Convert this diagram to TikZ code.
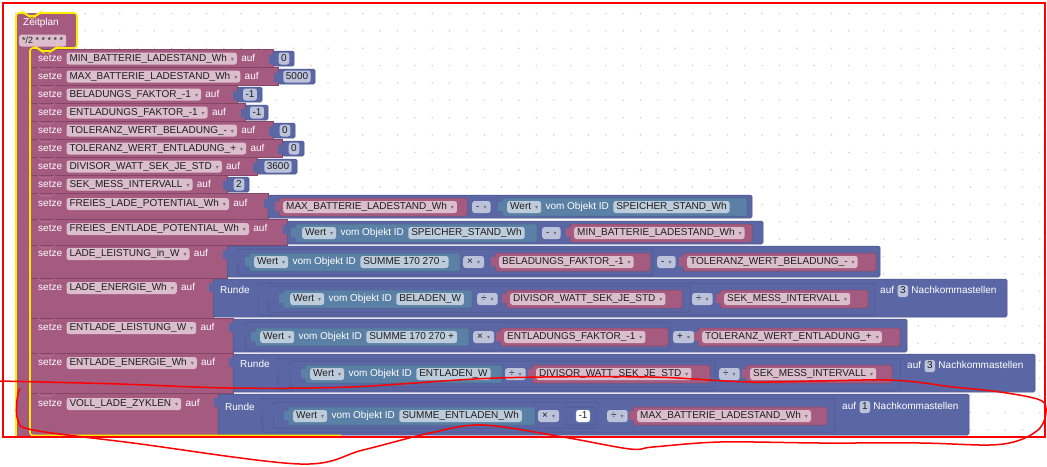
\documentclass[tikz,border=0pt]{standalone}
\usepackage{fontspec}
\setmainfont{Liberation Sans}
\newfontfamily\symfont{DejaVu Sans}
\usepackage{xcolor}
\definecolor{pinkc}{RGB}{165, 91, 128}
\definecolor{pinkdk}{RGB}{132, 70, 102}
\definecolor{pinkln}{RGB}{190, 120, 155}
\definecolor{bluec}{RGB}{91, 103, 165}
\definecolor{bluedk}{RGB}{72, 82, 138}
\definecolor{tealc}{RGB}{91, 128, 165}
\definecolor{tealdk}{RGB}{72, 104, 138}
\definecolor{vfldc}{RGB}{219, 189, 204}
\definecolor{bfldc}{RGB}{189, 194, 219}
\definecolor{tfldc}{RGB}{189, 204, 219}
\definecolor{fldtxt}{RGB}{30, 30, 30}
\definecolor{dropc}{RGB}{120, 110, 120}
\definecolor{gelb}{RGB}{255, 236, 0}
\definecolor{punkt}{RGB}{205, 205, 205}
\definecolor{rot}{RGB}{255, 0, 0}
\usepackage{tikz}
\usetikzlibrary{positioning}
\newcommand\blfont{\fontsize{10}{12}\selectfont}
\newcommand\drop{\hspace{4pt}{\symfont\fontsize{6}{6}\selectfont\textcolor{dropc}{▾}}}
\newcommand\tabat[3]{\fill[#3] (#1-4,#2+4) rectangle (#1+0.5,#2+13);}

\begin{document}
\begin{tikzpicture}[x=1pt, y=-1pt,
  txt/.style={inner sep=0pt, text height=7pt, text depth=2pt, text=white, font=\blfont, anchor=west},
  fld/.style={rounded corners=2.5pt, inner xsep=3pt, inner ysep=1.5pt, text height=7pt, text depth=2pt, text=fldtxt, font=\blfont, anchor=west},
  vfld/.style={fld, fill=vfldc},
  tfld/.style={fld, fill=tfldc},
  opfld/.style={fld, fill=bfldc, inner xsep=4pt},
  nfld/.style={fld, fill=bfldc, inner xsep=2.5pt, anchor=center},
  pblk/.style={fill=pinkc, draw=pinkdk, line width=0.5pt},
  bblk/.style={fill=bluec, draw=bluedk, line width=0.5pt, rounded corners=1.5pt},
  tblk/.style={fill=tealc, draw=tealdk, line width=0.5pt, rounded corners=1.5pt},
  vblk/.style={fill=pinkc, draw=pinkdk, line width=0.5pt, rounded corners=1.5pt}
]
  \useasboundingbox (0,0) rectangle (1047,466);
  \fill[white] (0,0) rectangle (1047,466);

  \begin{scope}
  \clip (3,3) rectangle (1045,437);
  % raster
  \foreach \i in {-5,...,55}
    \foreach \j in {0,...,24}
      \fill[punkt] (85+17.36*\i,13.5+17.36*\j) circle (0.8);

  % Zeitplan
  \fill[pinkc, rounded corners=4pt] (16,440) -- (16,13) -- (77,13) -- (77,49) -- (30,49) -- (30,440) -- cycle;
  \node[txt] (zeit) at (23,23) {Zeitplan};
  \node[vfld, font=\fontsize{9}{10}\selectfont] (cron) at (19,40.5) {*/2 * * * * *};

  % einfache Zeilen
  \filldraw[pblk] (30,49) rectangle (273,67);
  \node[txt] (r1s) at (38,58.5) {setze};
  \node[vfld, right=4pt of r1s] (r1v) {MIN\_BATTERIE\_LADESTAND\_Wh\drop};
  \node[txt, right=4pt of r1v] (r1a) {auf};
  \filldraw[bblk] (273,51) rectangle (294,66); \tabat{273}{51}{bluec}
  \node[nfld] (r1n) at (284,58.5) {0};

  \filldraw[pblk] (30,67) rectangle (278,85);
  \node[txt] (r2s) at (38,76.5) {setze};
  \node[vfld, right=4pt of r2s] (r2v) {MAX\_BATTERIE\_LADESTAND\_Wh\drop};
  \node[txt, right=4pt of r2v] (r2a) {auf};
  \filldraw[bblk] (278,69) rectangle (315,84); \tabat{278}{69}{bluec}
  \node[nfld] (r2n) at (297,76.5) {5000};

  \filldraw[pblk] (30,85) rectangle (237,103);
  \node[txt] (r3s) at (38,94.5) {setze};
  \node[vfld, right=4pt of r3s] (r3v) {BELADUNGS\_FAKTOR\_-1\drop};
  \node[txt, right=4pt of r3v] (r3a) {auf};
  \filldraw[bblk] (237,87) rectangle (262,102); \tabat{237}{87}{bluec}
  \node[nfld] (r3n) at (250,94.5) {-1};

  \filldraw[pblk] (30,103) rectangle (245,121);
  \node[txt] (r4s) at (38,112.5) {setze};
  \node[vfld, right=4pt of r4s] (r4v) {ENTLADUNGS\_FAKTOR\_-1\drop};
  \node[txt, right=4pt of r4v] (r4a) {auf};
  \filldraw[bblk] (245,105) rectangle (268,120); \tabat{245}{105}{bluec}
  \node[nfld] (r4n) at (257,112.5) {-1};

  \filldraw[pblk] (30,121) rectangle (273,139);
  \node[txt] (r5s) at (38,130.5) {setze};
  \node[vfld, right=4pt of r5s] (r5v) {TOLERANZ\_WERT\_BELADUNG\_-\drop};
  \node[txt, right=4pt of r5v] (r5a) {auf};
  \filldraw[bblk] (273,123) rectangle (295,138); \tabat{273}{123}{bluec}
  \node[nfld] (r5n) at (285,130.5) {0};

  \filldraw[pblk] (30,139) rectangle (282,157);
  \node[txt] (r6s) at (38,148.5) {setze};
  \node[vfld, right=4pt of r6s] (r6v) {TOLERANZ\_WERT\_ENTLADUNG\_+\drop};
  \node[txt, right=4pt of r6v] (r6a) {auf};
  \filldraw[bblk] (282,141) rectangle (304,156); \tabat{282}{141}{bluec}
  \node[nfld] (r6n) at (294,148.5) {0};

  \filldraw[pblk] (30,157) rectangle (257,175);
  \node[txt] (r7s) at (38,166.5) {setze};
  \node[vfld, right=4pt of r7s] (r7v) {DIVISOR\_WATT\_SEK\_JE\_STD\drop};
  \node[txt, right=4pt of r7v] (r7a) {auf};
  \filldraw[bblk] (257,159) rectangle (297,174); \tabat{257}{159}{bluec}
  \node[nfld] (r7n) at (278,166.5) {3600};

  \filldraw[pblk] (30,175) rectangle (227,193);
  \node[txt] (r8s) at (38,184.5) {setze};
  \node[vfld, right=4pt of r8s] (r8v) {SEK\_MESS\_INTERVALL\drop};
  \node[txt, right=4pt of r8v] (r8a) {auf};
  \filldraw[bblk] (227,177) rectangle (249,192); \tabat{227}{177}{bluec}
  \node[nfld] (r8n) at (239,184.5) {2};

  % FREIES_LADE_POTENTIAL_Wh
  \filldraw[pblk] (30,193) rectangle (268,219);
  \node[txt] (r9s) at (38,204) {setze};
  \node[vfld, right=4pt of r9s] (r9v) {FREIES\_LADE\_POTENTIAL\_Wh\drop};
  \node[txt, right=4pt of r9v] (r9a) {auf};
  \filldraw[bblk] (268,195) rectangle (752,218); \tabat{268}{195}{bluec}
  \filldraw[vblk] (279,198) rectangle (467,216); \tabat{279}{198}{pinkc}
  \node[vfld] (r9x) at (283,207) {MAX\_BATTERIE\_LADESTAND\_Wh\drop};
  \node[opfld] (r9o) at (472,207) {-\drop};
  \filldraw[tblk] (502,198) rectangle (747,216); \tabat{502}{198}{tealc}
  \node[tfld] (r9w) at (507,207) {Wert\drop};
  \node[txt, right=4pt of r9w] (r9t) {vom Objekt ID};
  \node[tfld, right=4pt of r9t] (r9i) {SPEICHER\_STAND\_Wh};

  % FREIES_ENTLADE_POTENTIAL_Wh
  \filldraw[pblk] (30,219) rectangle (287,245);
  \node[txt] (r10s) at (38,229) {setze};
  \node[vfld, right=4pt of r10s] (r10v) {FREIES\_ENTLADE\_POTENTIAL\_Wh\drop};
  \node[txt, right=4pt of r10v] (r10a) {auf};
  \filldraw[bblk] (287,221) rectangle (763,244); \tabat{287}{221}{bluec}
  \filldraw[tblk] (295,224) rectangle (537,242); \tabat{295}{224}{tealc}
  \node[tfld] (r10w) at (302,233) {Wert\drop};
  \node[txt, right=4pt of r10w] (r10t) {vom Objekt ID};
  \node[tfld, right=4pt of r10t] (r10i) {SPEICHER\_STAND\_Wh};
  \node[opfld] (r10o) at (542,233) {-\drop};
  \filldraw[vblk] (570,224) rectangle (752,242); \tabat{570}{224}{pinkc}
  \node[vfld] (r10x) at (574,233) {MIN\_BATTERIE\_LADESTAND\_Wh\drop};

  % LADE_LEISTUNG_in_W
  \filldraw[pblk] (30,245) rectangle (227,278);
  \node[txt] (r11s) at (38,254) {setze};
  \node[vfld, right=4pt of r11s] (r11v) {LADE\_LEISTUNG\_in\_W\drop};
  \node[txt, right=4pt of r11v] (r11a) {auf};
  \filldraw[bblk] (227,246) rectangle (880,277); \tabat{227}{246}{bluec}
  \filldraw[bblk] (238,249) rectangle (653,275); \tabat{238}{249}{bluec}
  \filldraw[tblk] (249,253) rectangle (460,271); \tabat{249}{253}{tealc}
  \node[tfld] (r11w) at (254,262) {Wert\drop};
  \node[txt, right=4pt of r11w] (r11t) {vom Objekt ID};
  \node[tfld, right=4pt of r11t] (r11i) {SUMME 170 270 -};
  \node[opfld] (r11o) at (463,262) {×\drop};
  \filldraw[vblk] (495,253) rectangle (650,271); \tabat{495}{253}{pinkc}
  \node[vfld] (r11x) at (499,262) {BELADUNGS\_FAKTOR\_-1\drop};
  \node[opfld] (r11p) at (657,262) {-\drop};
  \filldraw[vblk] (683,253) rectangle (876,271); \tabat{683}{253}{pinkc}
  \node[vfld] (r11y) at (687,262) {TOLERANZ\_WERT\_BELADUNG\_-\drop};

  % LADE_ENERGIE_Wh
  \filldraw[pblk] (30,278) rectangle (213,318);
  \node[txt] (r12s) at (38,288) {setze};
  \node[vfld, right=4pt of r12s] (r12v) {LADE\_ENERGIE\_Wh\drop};
  \node[txt, right=4pt of r12v] (r12a) {auf};
  \filldraw[bblk] (213,279) rectangle (1007,317); \tabat{213}{279}{bluec}
  \node[txt] (r12r) at (220,291) {Runde};
  \filldraw[bblk] (258,283) rectangle (875,315); \tabat{258}{283}{bluec}
  \filldraw[bblk] (268,286) rectangle (690,312); \tabat{268}{286}{bluec}
  \filldraw[tblk] (283,290) rectangle (472,308); \tabat{283}{290}{tealc}
  \node[tfld] (r12w) at (290,299) {Wert\drop};
  \node[txt, right=4pt of r12w] (r12t) {vom Objekt ID};
  \node[tfld, right=4pt of r12t] (r12i) {BELADEN\_W};
  \node[opfld] (r12o) at (477,299) {÷\drop};
  \filldraw[vblk] (506,290) rectangle (682,308); \tabat{506}{290}{pinkc}
  \node[vfld] (r12x) at (510,299) {DIVISOR\_WATT\_SEK\_JE\_STD\drop};
  \node[opfld] (r12p) at (692,299) {÷\drop};
  \filldraw[vblk] (720,290) rectangle (868,308); \tabat{720}{290}{pinkc}
  \node[vfld] (r12y) at (724,299) {SEK\_MESS\_INTERVALL\drop};
  \node[txt] (r12k) at (880,291) {auf};
  \node[nfld, right=3pt of r12k] (r12d) {3};
  \node[txt, right=3pt of r12d] (r12n) {Nachkommastellen};

  % ENTLADE_LEISTUNG_W
  \filldraw[pblk] (30,318) rectangle (233,353);
  \node[txt] (r13s) at (38,328) {setze};
  \node[vfld, right=4pt of r13s] (r13v) {ENTLADE\_LEISTUNG\_W\drop};
  \node[txt, right=4pt of r13v] (r13a) {auf};
  \filldraw[bblk] (233,319) rectangle (907,352); \tabat{233}{319}{bluec}
  \filldraw[bblk] (245,322) rectangle (670,350); \tabat{245}{322}{bluec}
  \filldraw[tblk] (255,328) rectangle (469,346); \tabat{255}{328}{tealc}
  \node[tfld] (r13w) at (260,337) {Wert\drop};
  \node[txt, right=4pt of r13w] (r13t) {vom Objekt ID};
  \node[tfld, right=4pt of r13t] (r13i) {SUMME 170 270 +};
  \node[opfld] (r13o) at (473,337) {×\drop};
  \filldraw[vblk] (500,328) rectangle (668,346); \tabat{500}{328}{pinkc}
  \node[vfld] (r13x) at (504,337) {ENTLADUNGS\_FAKTOR\_-1\drop};
  \node[opfld] (r13p) at (673,337) {+\drop};
  \filldraw[vblk] (698,328) rectangle (900,346); \tabat{698}{328}{pinkc}
  \node[vfld] (r13y) at (702,337) {TOLERANZ\_WERT\_ENTLADUNG\_+\drop};

  % ENTLADE_ENERGIE_Wh
  \filldraw[pblk] (30,353) rectangle (233,393);
  \node[txt] (r14s) at (38,363) {setze};
  \node[vfld, right=4pt of r14s] (r14v) {ENTLADE\_ENERGIE\_Wh\drop};
  \node[txt, right=4pt of r14v] (r14a) {auf};
  \filldraw[bblk] (233,354) rectangle (1035,392); \tabat{233}{354}{bluec}
  \node[txt] (r14r) at (240,365) {Runde};
  \filldraw[bblk] (278,358) rectangle (900,390); \tabat{278}{358}{bluec}
  \filldraw[bblk] (290,361) rectangle (715,387); \tabat{290}{361}{bluec}
  \filldraw[tblk] (305,365) rectangle (502,383); \tabat{305}{365}{tealc}
  \node[tfld] (r14w) at (310,374) {Wert\drop};
  \node[txt, right=4pt of r14w] (r14t) {vom Objekt ID};
  \node[tfld, right=4pt of r14t] (r14i) {ENTLADEN\_W};
  \node[opfld] (r14o) at (505,374) {÷\drop};
  \filldraw[vblk] (532,365) rectangle (710,383); \tabat{532}{365}{pinkc}
  \node[vfld] (r14x) at (536,374) {DIVISOR\_WATT\_SEK\_JE\_STD\drop};
  \node[opfld] (r14p) at (719,374) {÷\drop};
  \filldraw[vblk] (746,365) rectangle (892,383); \tabat{746}{365}{pinkc}
  \node[vfld] (r14y) at (750,374) {SEK\_MESS\_INTERVALL\drop};
  \node[txt] (r14k) at (907,366) {auf};
  \node[nfld, right=3pt of r14k] (r14d) {3};
  \node[txt, right=3pt of r14d] (r14n) {Nachkommastellen};

  % VOLL_LADE_ZYKLEN
  \filldraw[pblk] (30,393) rectangle (218,440);
  \node[txt] (r15s) at (38,404) {setze};
  \node[vfld, right=4pt of r15s] (r15v) {VOLL\_LADE\_ZYKLEN\drop};
  \node[txt, right=4pt of r15v] (r15a) {auf};
  \filldraw[bblk] (218,394) rectangle (969,435); \tabat{218}{394}{bluec}
  \node[txt] (r15r) at (225,408) {Runde};
  \filldraw[bblk] (262,398) rectangle (835,432); \tabat{262}{398}{bluec}
  \filldraw[bblk] (273,402) rectangle (598,428); \tabat{273}{402}{bluec}
  \filldraw[tblk] (288,407) rectangle (535,425); \tabat{288}{407}{tealc}
  \node[tfld] (r15w) at (293,416) {Wert\drop};
  \node[txt, right=4pt of r15w] (r15t) {vom Objekt ID};
  \node[tfld, right=4pt of r15t] (r15i) {SUMME\_ENTLADEN\_Wh};
  \node[opfld] (r15o) at (538,416) {×\drop};
  \filldraw[bblk] (566,407) rectangle (595,425); \tabat{566}{407}{bluec}
  \node[nfld, fill=white, draw=bfldc] (r15m) at (583,416) {-1};
  \node[opfld] (r15p) at (607,416) {÷\drop};
  \filldraw[vblk] (633,407) rectangle (827,425); \tabat{633}{407}{pinkc}
  \node[vfld] (r15x) at (637,416) {MAX\_BATTERIE\_LADESTAND\_Wh\drop};
  \node[txt] (r15k) at (842,407) {auf};
  \node[nfld, right=3pt of r15k] (r15d) {1};
  \node[txt, right=3pt of r15d] (r15n) {Nachkommastellen};

  % Kerben
  \foreach \t in {67,85,103,121,139,157,175,193,219,245,278,318,353,393}
    \draw[pinkln, line width=0.6pt] (38,\t) -- (41,\t+3) -- (52,\t+3) -- (55,\t);

  % Auswahl
  \draw[gelb, line width=1.6pt, rounded corners=3pt] (16,440) -- (16,13) -- (25,13) -- (28,16) -- (36,16) -- (39,13) -- (77,13) -- (77,48) -- (55,48) -- (52,51) -- (41,51) -- (38,48) -- (30,48) -- (30,435.5) -- (341,435.5);
  \end{scope}

  % Rahmen und Markierung
  \draw[rot, line width=1.2pt] (3,3) rectangle (1045,437);
  \draw[rot, line width=1.5pt] plot[smooth, tension=0.55] coordinates {(0,381) (120,384) (230,388) (350,387) (497,378) (650,377) (753,382) (887,380) (953,387) (1000,392) (1040,400) (1046,412) (1040,428) (1020,440) (990,445) (920,443) (820,443) (720,442) (653,447) (630,449) (563,437) (483,425) (430,433) (363,450) (300,464) (133,443) (33,430) (18,420) (17,400) (20,388)};
\end{tikzpicture}
\end{document}
